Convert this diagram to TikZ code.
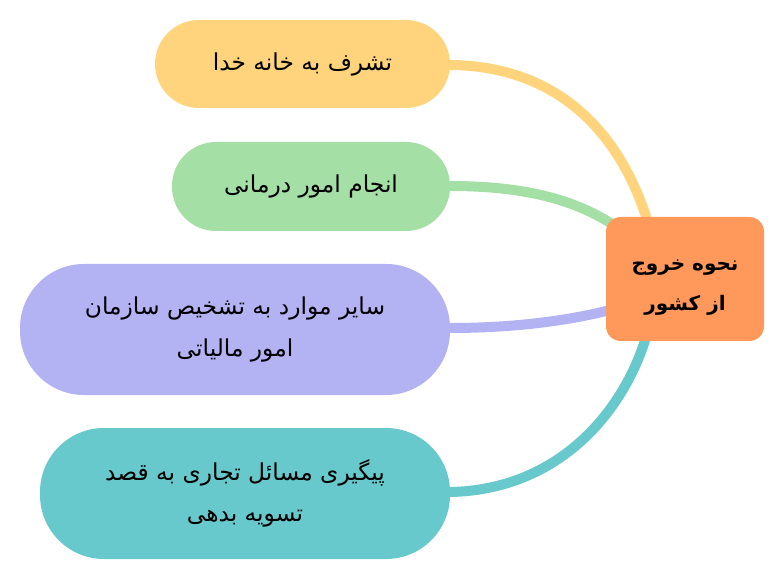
\documentclass[tikz,border=0pt]{standalone}
\usepackage{fontspec}
\newfontfamily\arabicfont[Script=Arabic]{DejaVu Sans}
\TeXXeTstate=1
\usetikzlibrary{calc}
\definecolor{cyellow}{HTML}{FFD47C}
\definecolor{cgreen}{HTML}{A4DFA6}
\definecolor{cpurple}{HTML}{B3B3F4}
\definecolor{cteal}{HTML}{67C9CC}
\definecolor{corange}{HTML}{FF985B}
\tikzset{
  leaf/.style={rectangle, inner sep=0pt, align=center, text=black,
    font=\arabicfont\fontsize{17.5}{31}\selectfont},
  link/.style={line width=7.5pt},
  label text/.style={inner sep=0pt, align=center, text=black,
    font=\arabicfont\bfseries\fontsize{15}{30}\selectfont},
}
\begin{document}
\begin{tikzpicture}[x=0.75pt,y=-0.75pt]
\useasboundingbox (0,0) rectangle (784,580);
% connectors first (behind)
\coordinate (ey) at (649,226);
\coordinate (eg) at (618,228);
\coordinate (ep) at (614,309);
\coordinate (et) at (647,334);
\draw[link, cyellow] (450,65) .. controls (560,66) and (622,135) .. (ey);
\draw[link, cgreen] (450,186) .. controls (520,186) and (575,198) .. (eg);
\draw[link, cpurple] (450,328) .. controls (525,328) and (580,318) .. (ep);
\draw[link, cteal] (450,492) .. controls (560,490) and (625,410) .. (et);
% nodes
\node[leaf, fill=cyellow, minimum width=221.25pt, minimum height=66pt, rounded corners=33pt] (y) at (302.5,64) {\beginR تشرف به خانه خدا\endR};
\node[leaf, fill=cgreen, minimum width=208.5pt, minimum height=66.75pt, rounded corners=33pt] (g) at (311,186.5) {\beginR انجام امور درمانی\endR};
\node[leaf, fill=cpurple, minimum width=322.5pt, minimum height=98.25pt, rounded corners=48pt] (p) at (235,329.5) {\beginR سایر موارد به تشخیص سازمان\endR\\\beginR امور مالیاتی\endR};
\node[leaf, fill=cteal, minimum width=307.5pt, minimum height=98.25pt, rounded corners=48pt] (t) at (245,493.5) {\beginR پیگیری مسائل تجاری به قصد\endR\\\beginR تسویه بدهی\endR};
\node[rectangle, fill=corange, minimum width=118.5pt, minimum height=93pt, rounded corners=11pt] (c) at (685,279) {};
\node[label text] (ct) at (685,288) {\beginR نحوه خروج\endR\\\beginR از کشور\endR};
\end{tikzpicture}
\end{document}
